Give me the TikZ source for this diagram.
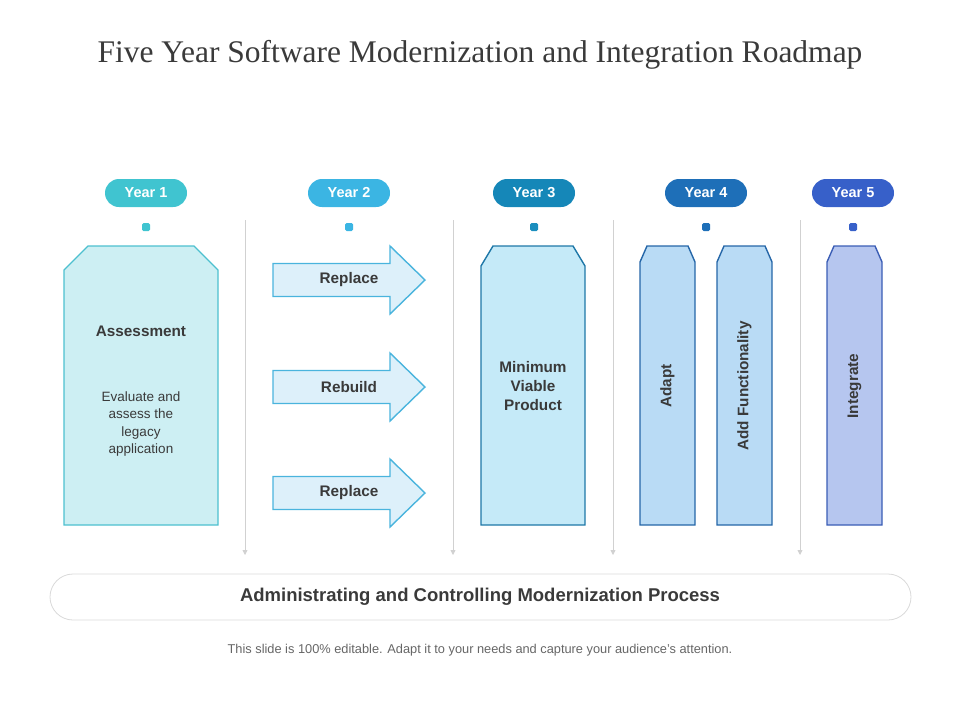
\documentclass[tikz,border=0pt]{standalone}
\usepackage{fontspec}
\setmainfont{Liberation Sans}
\newfontfamily\titlefont{Liberation Serif}
\usetikzlibrary{arrows.meta}
\definecolor{cA}{HTML}{40C4D0}\definecolor{fA}{HTML}{CDEFF3}\definecolor{sA}{HTML}{4DC0CF}
\definecolor{cB}{HTML}{3BB5E3}\definecolor{fB}{HTML}{DDF0FA}\definecolor{sB}{HTML}{4AB4DD}
\definecolor{cC}{HTML}{1587B8}\definecolor{fC}{HTML}{C5EAF8}\definecolor{sC}{HTML}{1F78A8}
\definecolor{cD}{HTML}{1E6FB8}\definecolor{fD}{HTML}{B9DBF5}\definecolor{sD}{HTML}{2566A8}
\definecolor{cE}{HTML}{3760C9}\definecolor{fE}{HTML}{B6C6EF}\definecolor{sE}{HTML}{3A5DB5}
\definecolor{txt}{HTML}{3A3A3A}
\tikzset{
 pill/.style={rounded corners=14pt,minimum width=82pt,minimum height=28pt,text=white,font=\fontsize{14.5}{16}\selectfont\bfseries,inner sep=0pt},
 sq/.style={minimum size=8pt,inner sep=0pt,rounded corners=1.5pt},
 divider/.style={draw=black!18,line width=0.8pt,-{Triangle[length=5pt,width=5pt]}},
 lbl/.style={text=txt,font=\fontsize{15.3}{19}\selectfont\bfseries,align=center},
 sm/.style={text=txt,font=\fontsize{13.5}{17.5}\selectfont,align=center},
}
\begin{document}
\begin{tikzpicture}[x=1pt,y=-1pt]
\useasboundingbox (0,0) rectangle (960,720);
\node[font=\titlefont\fontsize{31.5}{34}\selectfont,text=txt] (title) at (480,55) {Five Year Software Modernization and Integration Roadmap};
% pills
\node[pill,fill=cA] (y1) at (146,193) {Year 1};
\node[pill,fill=cB] (y2) at (349,193) {Year 2};
\node[pill,fill=cC] (y3) at (534,193) {Year 3};
\node[pill,fill=cD] (y4) at (706,193) {Year 4};
\node[pill,fill=cE] (y5) at (853,193) {Year 5};
\node[sq,fill=cA] (q1) at (146,227) {};
\node[sq,fill=cB] (q2) at (349,227) {};
\node[sq,fill=cC!85!cB] (q3) at (534,227) {};
\node[sq,fill=cD] (q4) at (706,227) {};
\node[sq,fill=cE] (q5) at (853,227) {};
% dividers
\foreach \x/\n in {245/a,453/b,613/c,800/d}{
 \coordinate (t\n) at (\x,220); \coordinate (b\n) at (\x,555);
 \draw[divider] (t\n) -- (b\n);}
% year1 box
\draw[draw=sA,fill=fA,line width=1.4pt] (64,525) -- (64,270) -- (88,246) -- (194,246) -- (218,270) -- (218,525) -- cycle;
\node[lbl] (ass) at (141,331) {Assessment};
\node[sm] (assd) at (141,424) {Evaluate and\\assess the\\legacy\\application};
% arrows
\foreach \y/\t/\n in {280/Replace/r1,387/Rebuild/r2,493/Replace/r3}{
 \draw[draw=sB,fill=fB,line width=1.4pt] (273,{\y-16.5}) -- (390,{\y-16.5}) -- (390,{\y-34}) -- (425,\y) -- (390,{\y+34}) -- (390,{\y+16.5}) -- (273,{\y+16.5}) -- cycle;
 \node[lbl] (\n) at (349,\y) {\t};}
% year3
\draw[draw=sC,fill=fC,line width=1.4pt] (481,525) -- (481,266) -- (493,246) -- (573,246) -- (585,266) -- (585,525) -- cycle;
\node[lbl] (mvp) at (533,386) {Minimum\\Viable\\Product};
% year4
\foreach \x/\t/\n in {640/Adapt/ad,717/Add Functionality/af}{
 \draw[draw=sD,fill=fD,line width=1.4pt] (\x,525) -- (\x,262) -- ({\x+7},246) -- ({\x+48},246) -- ({\x+55},262) -- ({\x+55},525) -- cycle;
 \node[lbl,rotate=90] (\n) at ({\x+27.5},386) {\t};}
% year5
\draw[draw=sE,fill=fE,line width=1.4pt] (827,525) -- (827,262) -- (834,246) -- (875,246) -- (882,262) -- (882,525) -- cycle;
\node[lbl,rotate=90] (int) at (854.5,386) {Integrate};
% bottom bar
\draw[draw=black!15,line width=0.8pt,rounded corners=23pt] (50,574) rectangle (911,620);
\node[text=txt,font=\fontsize{18.5}{20}\selectfont\bfseries] (bar) at (480,597) {Administrating and Controlling Modernization Process};
\node[text=black!60,font=\fontsize{12.8}{14}\selectfont] (foot) at (480,650) {This slide is 100\% editable. Adapt it to your needs and capture your audience's attention.};
\end{tikzpicture}
\end{document}
